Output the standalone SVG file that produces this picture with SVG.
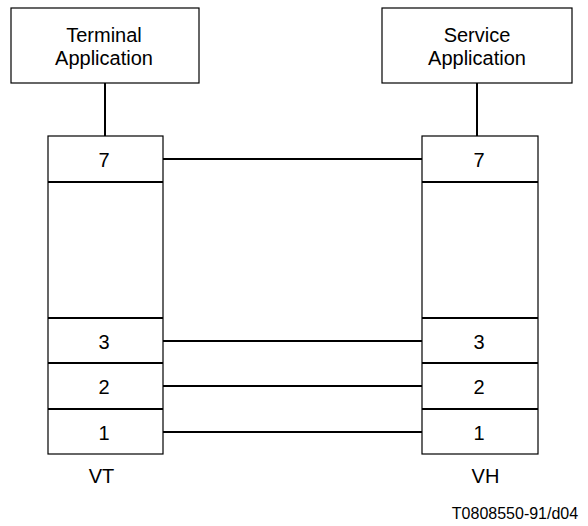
<svg xmlns="http://www.w3.org/2000/svg" width="588" height="526" viewBox="0 0 588 526">
<style>
.box{fill:#fff;stroke:#000;stroke-width:1.2}
.div{stroke:#000;stroke-width:2}
.con{stroke:#000;stroke-width:2;fill:none}
text{font-family:"Liberation Sans",Arial,sans-serif;font-size:20px;fill:#000;text-anchor:middle}
.small{font-size:16px}
</style>
<rect width="588" height="526" fill="#fff"/>
<g id="connectors">
<line class="con" x1="105" y1="83" x2="105" y2="136"/>
<line class="con" x1="477" y1="83" x2="477" y2="136"/>
<line class="con" x1="163" y1="159" x2="422" y2="159"/>
<line class="con" x1="163" y1="341" x2="422" y2="341"/>
<line class="con" x1="163" y1="386" x2="422" y2="386"/>
<line class="con" x1="163" y1="432" x2="422" y2="432"/>
</g>
<g id="terminal-app">
<rect class="box" x="11" y="8" width="188" height="75"/>
<text x="104" y="42">Terminal</text>
<text x="104" y="65">Application</text>
</g>
<g id="service-app">
<rect class="box" x="382" y="8" width="190" height="75"/>
<text x="477" y="42">Service</text>
<text x="477" y="65">Application</text>
</g>
<g id="vt-stack">
<rect class="box" x="48" y="136" width="115" height="318"/>
<line class="div" x1="48" y1="182" x2="163" y2="182"/>
<line class="div" x1="48" y1="318" x2="163" y2="318"/>
<line class="div" x1="48" y1="363" x2="163" y2="363"/>
<line class="div" x1="48" y1="409" x2="163" y2="409"/>
<text x="104" y="167">7</text>
<text x="104" y="349">3</text>
<text x="104" y="394">2</text>
<text x="104" y="440">1</text>
</g>
<g id="vh-stack">
<rect class="box" x="422" y="136" width="116" height="318"/>
<line class="div" x1="422" y1="182" x2="538" y2="182"/>
<line class="div" x1="422" y1="318" x2="538" y2="318"/>
<line class="div" x1="422" y1="363" x2="538" y2="363"/>
<line class="div" x1="422" y1="409" x2="538" y2="409"/>
<text x="479" y="167">7</text>
<text x="479" y="349">3</text>
<text x="479" y="394">2</text>
<text x="479" y="440">1</text>
</g>
<g id="labels">
<text x="101.5" y="483">VT</text>
<text x="485.5" y="483">VH</text>
<text class="small" x="515" y="519">T0808550-91/d04</text>
</g>
</svg>
